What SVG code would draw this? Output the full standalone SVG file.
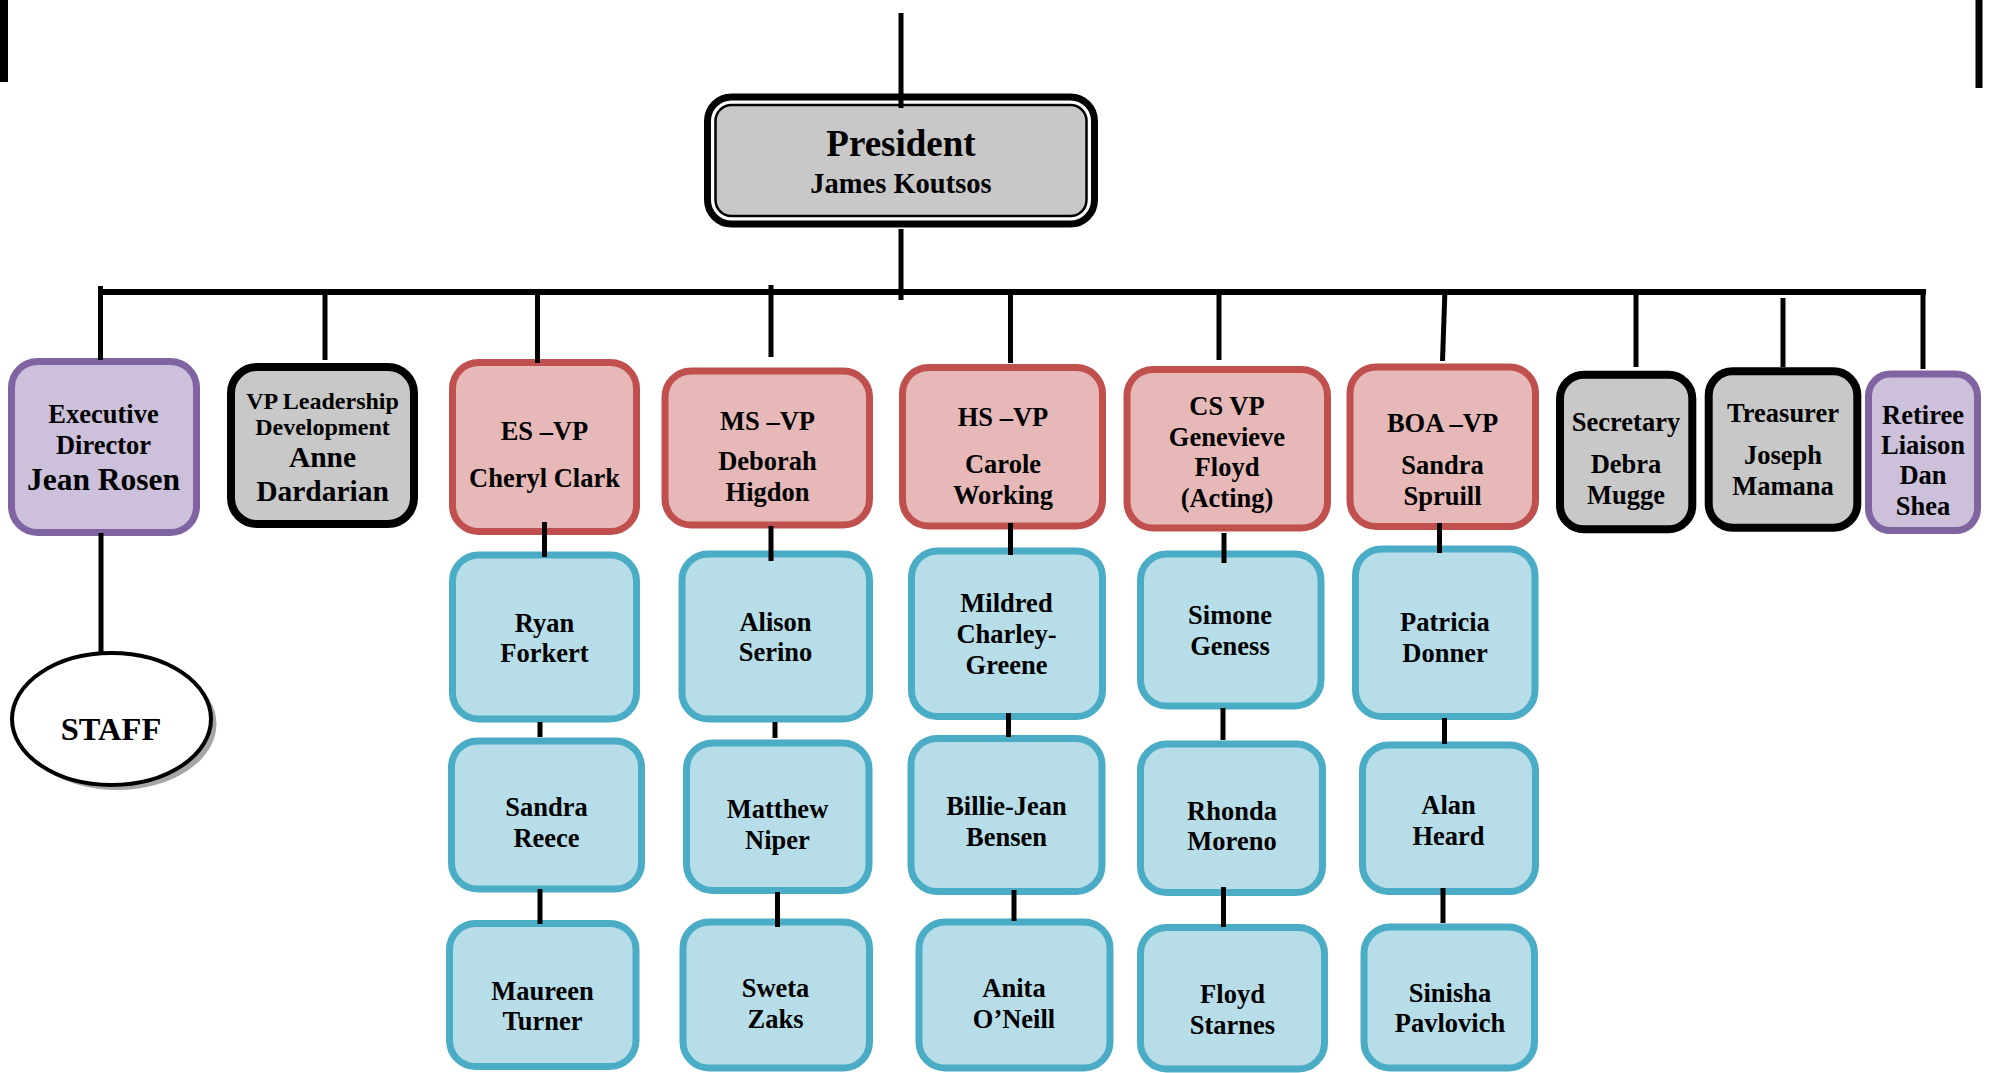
<svg xmlns="http://www.w3.org/2000/svg" width="1992" height="1073" viewBox="0 0 1992 1073">
<style>
text{font-family:"Liberation Serif","Times New Roman",serif;font-weight:bold;fill:#000;text-anchor:middle;font-size:26.5px}
.red{fill:#E6B8B7;stroke:#C0504D;stroke-width:7}
.blue{fill:#B7DEE8;stroke:#4BACC6;stroke-width:7}
.purple{fill:#CCC0DA;stroke:#8064A2;stroke-width:7}
.grey{fill:#C8C8C8;stroke:#000;stroke-width:8}
.c line{stroke:#000;stroke-width:5}
</style>
<rect width="1992" height="1073" fill="#fff"/>
<g id="president">
<rect x="707.5" y="97" width="387" height="127" rx="24" fill="#fff" stroke="#000" stroke-width="7"/>
<rect x="715.5" y="105" width="371" height="111" rx="16" fill="#C8C8C8" stroke="#000" stroke-width="2.5"/>
<text x="901" y="156" style="font-size:37px">President</text>
<text x="901" y="193" style="font-size:28.5px">James Koutsos</text>
</g>
<g id="exec-director">
<rect class="purple" x="11.5" y="361.5" width="185" height="171" rx="26"/>
<text x="103.5" y="423">Executive</text>
<text x="103.5" y="453.5">Director</text>
<text x="103.5" y="489.5" style="font-size:31.5px">Jean Rosen</text>
</g>
<g id="staff">
<ellipse cx="117" cy="724" rx="99.5" ry="66" fill="#A6A6A6"/>
<ellipse cx="111.5" cy="719" rx="99.5" ry="66" fill="#fff" stroke="#000" stroke-width="4"/>
<text x="111" y="740" style="font-size:32.5px">STAFF</text>
</g>
<g id="vp-leadership">
<rect class="grey" x="231" y="367" width="183" height="157" rx="26"/>
<text x="322.5" y="408.5" style="font-size:24px">VP Leadership</text>
<text x="322.5" y="435" style="font-size:24px">Development</text>
<text x="322.5" y="466.5" style="font-size:29.5px">Anne</text>
<text x="322.5" y="500.5" style="font-size:29.5px">Dardarian</text>
</g>
<g id="es-vp">
<rect class="red" x="452.5" y="362.5" width="184" height="169" rx="26"/>
<text x="544.5" y="440">ES –VP</text>
<text x="544.5" y="486.5">Cheryl Clark</text>
</g>
<g id="ryan-forkert">
<rect class="blue" x="452.5" y="555" width="184" height="164" rx="26"/>
<text x="544.5" y="631.5">Ryan</text>
<text x="544.5" y="661.5">Forkert</text>
</g>
<g id="sandra-reece">
<rect class="blue" x="451.5" y="741" width="190" height="148" rx="26"/>
<text x="546.5" y="816">Sandra</text>
<text x="546.5" y="846.5">Reece</text>
</g>
<g id="maureen-turner">
<rect class="blue" x="449.5" y="923.5" width="186.5" height="143" rx="26"/>
<text x="542.5" y="999.5">Maureen</text>
<text x="542.5" y="1030">Turner</text>
</g>
<g id="ms-vp">
<rect class="red" x="665" y="371" width="204.5" height="154" rx="26"/>
<text x="767.5" y="430">MS –VP</text>
<text x="767.5" y="470">Deborah</text>
<text x="767.5" y="500.5">Higdon</text>
</g>
<g id="alison-serino">
<rect class="blue" x="682" y="554" width="187.5" height="165" rx="26"/>
<text x="775.5" y="631">Alison</text>
<text x="775.5" y="660.5">Serino</text>
</g>
<g id="matthew-niper">
<rect class="blue" x="686.5" y="743" width="182.5" height="147.5" rx="26"/>
<text x="777.5" y="817.5">Matthew</text>
<text x="777.5" y="848.5">Niper</text>
</g>
<g id="sweta-zaks">
<rect class="blue" x="683" y="922" width="186.5" height="146" rx="26"/>
<text x="775.5" y="996.5">Sweta</text>
<text x="775.5" y="1027.5">Zaks</text>
</g>
<g id="hs-vp">
<rect class="red" x="902.5" y="367.5" width="200" height="158.5" rx="26"/>
<text x="1003" y="426">HS –VP</text>
<text x="1003" y="472.5">Carole</text>
<text x="1003" y="503.5">Working</text>
</g>
<g id="mildred">
<rect class="blue" x="911.5" y="551" width="191" height="165.5" rx="26"/>
<text x="1006.5" y="611.5">Mildred</text>
<text x="1006.5" y="643">Charley-</text>
<text x="1006.5" y="673.5">Greene</text>
</g>
<g id="billie-jean">
<rect class="blue" x="911" y="738.5" width="191" height="153" rx="26"/>
<text x="1006.5" y="815">Billie-Jean</text>
<text x="1006.5" y="846">Bensen</text>
</g>
<g id="anita">
<rect class="blue" x="919" y="922" width="191" height="146" rx="26"/>
<text x="1014" y="996.5">Anita</text>
<text x="1014" y="1027.5">O’Neill</text>
</g>
<g id="cs-vp">
<rect class="red" x="1127" y="369.5" width="200.5" height="158.5" rx="26"/>
<text x="1227" y="415">CS VP</text>
<text x="1227" y="446">Genevieve</text>
<text x="1227" y="476">Floyd</text>
<text x="1227" y="506.5">(Acting)</text>
</g>
<g id="simone">
<rect class="blue" x="1140.5" y="554" width="180.5" height="152" rx="26"/>
<text x="1230" y="623.5">Simone</text>
<text x="1230" y="654.5">Geness</text>
</g>
<g id="rhonda">
<rect class="blue" x="1140.5" y="744" width="182" height="148.5" rx="26"/>
<text x="1232" y="819.5">Rhonda</text>
<text x="1232" y="849.5">Moreno</text>
</g>
<g id="floyd-starnes">
<rect class="blue" x="1140.5" y="927.5" width="184" height="141.5" rx="26"/>
<text x="1232.5" y="1002.5">Floyd</text>
<text x="1232.5" y="1033.5">Starnes</text>
</g>
<g id="boa-vp">
<rect class="red" x="1350" y="367" width="185.5" height="159.5" rx="26"/>
<text x="1442.5" y="431.5">BOA –VP</text>
<text x="1442.5" y="474">Sandra</text>
<text x="1442.5" y="505">Spruill</text>
</g>
<g id="patricia">
<rect class="blue" x="1355.5" y="549" width="179.5" height="167.5" rx="26"/>
<text x="1445" y="631">Patricia</text>
<text x="1445" y="661.5">Donner</text>
</g>
<g id="alan">
<rect class="blue" x="1362.5" y="745" width="173" height="146.5" rx="26"/>
<text x="1448.5" y="814">Alan</text>
<text x="1448.5" y="844.5">Heard</text>
</g>
<g id="sinisha">
<rect class="blue" x="1364" y="927" width="170.5" height="141" rx="26"/>
<text x="1450" y="1001.5">Sinisha</text>
<text x="1450" y="1031.5">Pavlovich</text>
</g>
<g id="secretary">
<rect class="grey" x="1560" y="374.7" width="132.3" height="154.6" rx="24"/>
<text x="1626" y="430.5">Secretary</text>
<text x="1626" y="472.5">Debra</text>
<text x="1626" y="503.5">Mugge</text>
</g>
<g id="treasurer">
<rect class="grey" x="1708.7" y="371.3" width="148.6" height="156.4" rx="24"/>
<text x="1783" y="421.5">Treasurer</text>
<text x="1783" y="464">Joseph</text>
<text x="1783" y="495">Mamana</text>
</g>
<g id="retiree-liaison">
<rect class="purple" x="1868.5" y="374" width="109" height="156.6" rx="22"/>
<text x="1923" y="423.5">Retiree</text>
<text x="1923" y="453.5">Liaison</text>
<text x="1923" y="484">Dan</text>
<text x="1923" y="515">Shea</text>
</g>
<g id="connectors" class="c">
<line x1="4" y1="0" x2="4" y2="82" style="stroke-width:8"/>
<line x1="1979" y1="0" x2="1979" y2="88" style="stroke-width:7"/>
<line x1="901" y1="13" x2="901" y2="108"/>
<line x1="901" y1="229" x2="901" y2="300"/>
<line x1="98" y1="292" x2="1926" y2="292" style="stroke-width:6"/>
<line x1="100.5" y1="286" x2="100.5" y2="360"/>
<line x1="325" y1="289" x2="325" y2="360"/>
<line x1="537.5" y1="289" x2="537.5" y2="363"/>
<line x1="771" y1="285" x2="771" y2="357"/>
<line x1="1010.5" y1="289" x2="1010.5" y2="363"/>
<line x1="1219" y1="289" x2="1219" y2="360"/>
<line x1="1445" y1="289" x2="1442.5" y2="361"/>
<line x1="1636" y1="289" x2="1636" y2="367"/>
<line x1="1783" y1="298" x2="1783" y2="367"/>
<line x1="1923" y1="289" x2="1923" y2="369"/>
<line x1="101" y1="533" x2="101" y2="652"/>
<line x1="544.5" y1="522" x2="544.5" y2="557"/>
<line x1="540" y1="722" x2="540" y2="737"/>
<line x1="540" y1="889" x2="540" y2="924"/>
<line x1="771" y1="526" x2="771" y2="561"/>
<line x1="775" y1="722" x2="775" y2="738"/>
<line x1="777.5" y1="892" x2="777.5" y2="927"/>
<line x1="1010.5" y1="523" x2="1010.5" y2="555"/>
<line x1="1008.5" y1="713" x2="1008.5" y2="737"/>
<line x1="1014" y1="890" x2="1014" y2="921"/>
<line x1="1224" y1="533" x2="1224" y2="563"/>
<line x1="1223" y1="708" x2="1223" y2="740"/>
<line x1="1223.5" y1="887" x2="1223.5" y2="927"/>
<line x1="1439.5" y1="523" x2="1439.5" y2="553"/>
<line x1="1444.5" y1="718" x2="1444.5" y2="744"/>
<line x1="1443" y1="888" x2="1443" y2="923"/>
</g>
</svg>
